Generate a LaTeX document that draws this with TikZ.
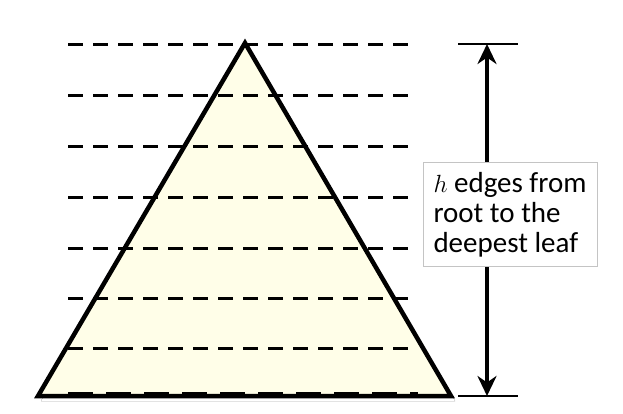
\documentclass[tikz,border=0pt]{standalone}
\usepackage{fontspec}
\setmainfont{Carlito}
\usetikzlibrary{arrows.meta}
\definecolor{ink}{HTML}{000000}
\definecolor{cream}{HTML}{FFFEE8}
\definecolor{shade}{HTML}{9A9A9A}
\definecolor{frame}{HTML}{C4C4C4}

\begin{document}
\begin{tikzpicture}[
  x=1pt, y=-1pt,
  font=\fontsize{29}{30}\selectfont, text=ink,
  level/.style={draw=ink, line width=3pt, dash pattern=on 15pt off 10pt},
  base/.style={draw=ink, line width=6pt, dash pattern=on 25pt off 13pt},
  tree/.style={draw=ink, line width=4.5pt, fill=cream, line join=miter},
  tick/.style={draw=ink, line width=2.5pt},
  arrow/.style={draw=ink, line width=4pt,
    {Stealth[length=20pt, width=19pt]}-{Stealth[length=20pt, width=19pt]}},
  label/.style={draw=frame, line width=1pt, fill=white, align=left,
    inner sep=0pt, minimum width=174pt, minimum height=103pt}
]
\useasboundingbox (0,0) rectangle (623,414);

% The tree as a triangle, with a soft shadow below it.
\fill[shade] (248,47) -- (455,401) -- (41,401) -- cycle;
\draw[tree] (245,43) -- (451,396) -- (38,396) -- cycle;

% One dashed line per level of the tree.
\foreach \y in {45,96,147,197,248,298,348}
  \draw[level] (68,\y) -- (412,\y);
\draw[base] (68,395) -- (418,395);

% Height measure from the root down to the deepest leaf.
\coordinate (topl) at (458,44);
\coordinate (topr) at (518,44);
\coordinate (botl) at (458,396);
\coordinate (botr) at (518,396);
\coordinate (root) at (487,44);
\coordinate (leaf) at (487,396);
\draw[tick] (topl) -- (topr);
\draw[tick] (botl) -- (botr);
\draw[arrow] (root) -- (leaf);
\node[label] (height) at (510,214.5)
  {\hspace{9pt}\parbox{162pt}{$h$ edges from\\root to the\\deepest leaf}};
\end{tikzpicture}
\end{document}
